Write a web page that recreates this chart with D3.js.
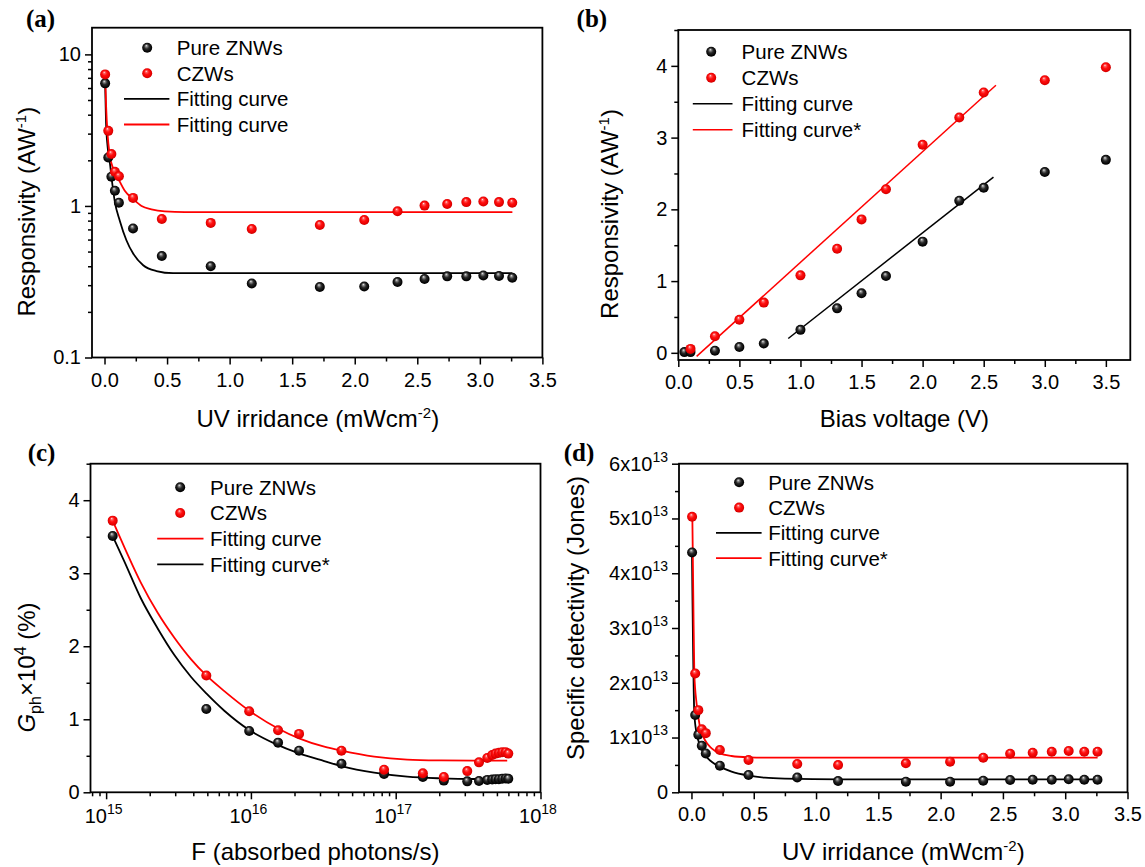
<!DOCTYPE html>
<html><head><meta charset="utf-8">
<script src="https://cdn.jsdelivr.net/npm/d3@7"></script>
<style>
body{margin:0;background:#fff;}
svg{display:block;}
text{font-family:"Liberation Sans",Arial,Helvetica,sans-serif;fill:#000;}
</style></head><body>
<svg id="c" width="1145" height="867"></svg>
<script>
// ---------------- DATA ----------------
// (a) Responsivity vs UV irradiance
const aIrr  = [0.005,0.03,0.055,0.083,0.115,0.228,0.458,0.849,1.177,1.721,2.076,2.342,2.558,2.739,2.892,3.028,3.153,3.259];
const aPure = [6.44,2.09,1.56,1.26,1.05,0.71,0.467,0.40,0.308,0.292,0.294,0.315,0.330,0.343,0.343,0.348,0.345,0.336];
const aCZW  = [7.38,3.13,2.20,1.68,1.57,1.13,0.82,0.773,0.705,0.749,0.808,0.922,1.005,1.03,1.06,1.07,1.06,1.05];
const aFitPureX = [0.005,0.012,0.025,0.042,0.06,0.083,0.122,0.175,0.229,0.309,0.415,0.548,0.80,3.26];
const aFitPureY = [6.43,3.6,2.45,1.95,1.45,1.06,0.80,0.594,0.485,0.406,0.372,0.36,0.36,0.36];
const aFitCZWX  = [0.005,0.013,0.024,0.042,0.069,0.109,0.162,0.229,0.296,0.375,0.482,0.642,3.26];
const aFitCZWY  = [7.38,4.51,3.01,2.16,1.77,1.52,1.26,1.11,1.00,0.95,0.92,0.91,0.91];
const aXTicks = [0,0.5,1,1.5,2,2.5,3,3.5];
const aXMinor = [0.25,0.75,1.25,1.75,2.25,2.75,3.25];
const aYTicks = [0.1,1,10];
const aYMinor = [0.2,0.3,0.4,0.5,0.6,0.7,0.8,0.9,2,3,4,5,6,7,8,9];

// (b) Responsivity vs bias voltage
const bVoltPure = [0.05,0.1,0.3,0.5,0.7,1.0,1.3,1.5,1.7,2.0,2.3,2.5,3.0,3.5];
const bPure     = [0.01,0.01,0.03,0.08,0.13,0.32,0.62,0.83,1.07,1.55,2.12,2.30,2.52,2.69];
const bVoltCZW  = [0.1,0.3,0.5,0.7,1.0,1.3,1.5,1.7,2.0,2.3,2.5,3.0,3.5];
const bCZW      = [0.055,0.23,0.46,0.70,1.08,1.45,1.86,2.28,2.90,3.28,3.63,3.80,3.98];
const bFitPureX = [0.9,2.58];
const bFitPureY = [0.2,2.45];
const bFitCZWX  = [0.15,2.6];
const bFitCZWY  = [-0.05,3.73];
const bXTicks = [0,0.5,1,1.5,2,2.5,3,3.5];
const bXMinor = [0.25,0.75,1.25,1.75,2.25,2.75,3.25];
const bYTicks = [0,1,2,3,4];
const bYMinor = [0.5,1.5,2.5,3.5,4.5];

// (c) Gain vs absorbed photons
const cF    = [1.11e15,4.92e15,9.73e15,1.54e16,2.15e16,4.22e16,8.31e16,1.54e17,2.15e17,3.12e17,3.76e17,4.29e17,4.64e17,4.89e17,5.16e17,5.44e17,5.74e17,5.99e17];
const cPure = [3.51,1.14,0.84,0.68,0.57,0.39,0.25,0.21,0.16,0.15,0.155,0.17,0.175,0.18,0.18,0.185,0.19,0.185];
const cCZW  = [3.72,1.60,1.11,0.85,0.80,0.57,0.31,0.26,0.21,0.29,0.41,0.47,0.51,0.53,0.54,0.55,0.55,0.53];
const cFitPureX = [1.11e15,1.34e15,1.74e15,2.27e15,2.96e15,3.85e15,4.92e15,6.55e15,9.75e15,1.45e16,2.15e16,3.21e16,4.22e16,7.10e16,1.20e17,2.04e17,3.47e17,5.89e17];
const cFitPureY = [3.507,3.156,2.654,2.244,1.879,1.582,1.354,1.117,0.852,0.670,0.533,0.428,0.360,0.269,0.214,0.191,0.182,0.182];
const cFitCZWX  = [1.11e15,1.34e15,1.74e15,2.27e15,2.96e15,3.85e15,4.92e15,6.55e15,9.75e15,1.55e16,2.15e16,3.21e16,4.22e16,7.10e16,1.20e17,2.04e17,3.47e17,5.89e17];
const cFitCZWY  = [3.717,3.352,2.869,2.458,2.116,1.824,1.600,1.386,1.117,0.871,0.738,0.624,0.570,0.488,0.447,0.436,0.433,0.433];
const cXTicks = [1e15,1e16,1e17,1e18];
const cXTickExp = ["15","16","17","18"];
const cXMinor = [8e14,9e14,2e15,3e15,4e15,5e15,6e15,7e15,8e15,9e15,2e16,3e16,4e16,5e16,6e16,7e16,8e16,9e16,2e17,3e17,4e17,5e17,6e17,7e17,8e17,9e17];
const cYTicks = [0,1,2,3,4];
const cYMinor = [0.5,1.5,2.5,3.5,4.5];

// (d) Specific detectivity vs UV irradiance
const dIrr  = [0.005,0.03,0.055,0.083,0.115,0.228,0.458,0.849,1.177,1.721,2.076,2.342,2.558,2.739,2.892,3.028,3.153,3.259];
const dPure = [4.38e13,1.41e13,1.05e13,0.85e13,0.71e13,0.486e13,0.316e13,0.27e13,0.206e13,0.194e13,0.194e13,0.212e13,0.225e13,0.23e13,0.23e13,0.237e13,0.23e13,0.228e13];
const dCZW  = [5.03e13,2.17e13,1.50e13,1.15e13,1.08e13,0.772e13,0.59e13,0.517e13,0.498e13,0.529e13,0.559e13,0.632e13,0.705e13,0.723e13,0.741e13,0.754e13,0.741e13,0.741e13];
const dFitPureX = [0.004,0.023,0.041,0.068,0.108,0.162,0.228,0.322,0.461,0.589,0.749,1.2,3.26];
const dFitPureY = [4.42e13,1.44e13,1.08e13,0.864e13,0.681e13,0.559e13,0.468e13,0.377e13,0.304e13,0.267e13,0.249e13,0.235e13,0.235e13];
const dFitCZWX  = [0.007,0.015,0.023,0.041,0.068,0.108,0.162,0.228,0.322,0.461,0.589,3.26];
const dFitCZWY  = [5.06e13,3.51e13,2.17e13,1.624e13,1.198e13,0.955e13,0.803e13,0.711e13,0.663e13,0.638e13,0.632e13,0.632e13];
const dXTicks = [0,0.5,1,1.5,2,2.5,3,3.5];
const dXMinor = [0.25,0.75,1.25,1.75,2.25,2.75,3.25];
const dYTicks = [0,1e13,2e13,3e13,4e13,5e13,6e13];
const dYMinor = [0.5e13,1.5e13,2.5e13,3.5e13,4.5e13,5.5e13];

// ---------------- DRAWING ----------------
const FONT = '"Liberation Sans", Arial, Helvetica, sans-serif';
const svg = d3.select("#c");
svg.append("rect").attr("width",1145).attr("height",867).attr("fill","#fff");
const defs = svg.append("defs");
function grad(id, stops){
  const g = defs.append("radialGradient").attr("id",id)
    .attr("cx","50%").attr("cy","50%").attr("r","55%").attr("fx","40%").attr("fy","28%");
  stops.forEach(s=>g.append("stop").attr("offset",s[0]).attr("stop-color",s[1]));
}
grad("gBlack",[["0%","#f0f0f0"],["18%","#8a8a8a"],["45%","#2a2a2a"],["80%","#050505"],["100%","#000"]]);
grad("gRed",[["0%","#fff0f0"],["18%","#ff6060"],["45%","#ff1010"],["80%","#e60000"],["100%","#b80000"]]);

const zip = (a,b)=>a.map((v,i)=>[v,b[i]]);
const R = 5;

function rich(g, x, y, rot, parts, size, anchor){
  const t = g.append("text")
    .attr("transform",`translate(${x},${y})`+(rot?` rotate(${rot})`:""))
    .attr("text-anchor",anchor||"middle").attr("font-size",size);
  parts.forEach(p=>{
    const s = t.append("tspan").text(p.t);
    if(p.dy) s.attr("dy",p.dy);
    if(p.size) s.attr("font-size",p.size);
    if(p.it) s.attr("font-style","italic");
  });
  return t;
}

function styleAxis(sel){
  sel.select(".domain").remove();
  sel.attr("font-size",20).attr("font-family",FONT);
  sel.selectAll(".tick line").attr("stroke","#000").attr("stroke-width",1.5);
  sel.selectAll(".tick text").attr("fill","#000");
}

function panel(p){
  const g = svg.append("g");
  const x = p.x, y = p.y;
  const [l,r] = x.range(); const [b,t] = y.range();
  g.append("g").attr("transform",`translate(0,${b})`)
    .call(d3.axisBottom(x).tickValues(p.xMinor).tickSize(4).tickFormat(""))
    .call(styleAxis);
  g.append("g").attr("transform",`translate(${l},0)`)
    .call(d3.axisLeft(y).tickValues(p.yMinor).tickSize(4).tickFormat(""))
    .call(styleAxis);
  const xa = g.append("g").attr("transform",`translate(0,${b})`)
    .call(d3.axisBottom(x).tickValues(p.xMajor).tickSize(7).tickPadding(p.xPad).tickFormat(p.xFmt))
    .call(styleAxis);
  const ya = g.append("g").attr("transform",`translate(${l},0)`)
    .call(d3.axisLeft(y).tickValues(p.yMajor).tickSize(7).tickPadding(4).tickFormat(p.yFmt))
    .call(styleAxis);
  if(p.xSup) xa.selectAll(".tick text").each(function(d,i){ p.xSup(d3.select(this),d,i); });
  if(p.ySup) ya.selectAll(".tick text").each(function(d,i){ p.ySup(d3.select(this),d,i); });
  g.append("rect").attr("x",l).attr("y",t).attr("width",r-l).attr("height",b-t)
    .attr("fill","none").attr("stroke","#000").attr("stroke-width",1.8);
  const line = d3.line().x(d=>x(d[0])).y(d=>y(d[1])).curve(d3.curveMonotoneX);
  p.fits.forEach(f=>{
    g.append("path").datum(zip(f.x,f.y)).attr("d",line)
      .attr("fill","none").attr("stroke",f.color).attr("stroke-width",p.lw||1.8);
  });
  p.series.forEach(s=>{
    g.append("g").selectAll("circle").data(zip(s.x,s.y)).join("circle")
      .attr("cx",d=>x(d[0])).attr("cy",d=>y(d[1])).attr("r",R)
      .attr("fill",`url(#${s.grad})`);
  });
  const lg = g.append("g").attr("font-size",20.5);
  p.legend.items.forEach((it,i)=>{
    const yy = p.legend.y0 + i*p.legend.dy;
    if(it.type==="pt"){
      lg.append("circle").attr("cx",p.legend.mx).attr("cy",yy).attr("r",R).attr("fill",`url(#${it.grad})`);
    } else {
      lg.append("line").attr("x1",p.legend.lx1).attr("x2",p.legend.lx2).attr("y1",yy).attr("y2",yy)
        .attr("stroke",it.color).attr("stroke-width",p.lw||1.8);
    }
    lg.append("text").attr("x",p.legend.tx).attr("y",yy+7.3).text(it.label);
  });
  rich(g, p.xt[0], p.xt[1], 0, p.xTitle, 24);
  rich(g, p.yt[0], p.yt[1], -90, p.yTitle, 24);
  g.append("text").attr("x",p.lab[0]).attr("y",p.lab[1]).attr("font-size",25)
    .attr("font-weight","bold").style("font-family",'"Liberation Serif","Times New Roman",serif')
    .text(p.lab[2]);
}

const fmt1 = d3.format(".1f");
const supTick = (base, exp) => (sel)=>{
  sel.text(null);
  sel.append("tspan").text(base);
  sel.append("tspan").attr("font-size",14).attr("dy",-9).text(exp);
};
const uvTitle = [{t:"UV irridance (mWcm"},{t:"-2",size:15,dy:-9},{t:")",dy:9}];
const respTitle = [{t:"Responsivity (AW"},{t:"-1",size:15,dy:-9},{t:")",dy:9}];

// (a)
panel({
  x: d3.scaleLinear([-0.1,3.5],[92,542.4]),
  y: d3.scaleLog([0.1,15],[357.5,27.7]),
  xMajor:aXTicks, xMinor:aXMinor, yMajor:aYTicks, yMinor:aYMinor,
  xFmt:fmt1, yFmt:d=>String(d), xPad:8,
  fits:[{x:aFitPureX,y:aFitPureY,color:"#000"},{x:aFitCZWX,y:aFitCZWY,color:"#ff0000"}],
  series:[{x:aIrr,y:aPure,grad:"gBlack"},{x:aIrr,y:aCZW,grad:"gRed"}],
  legend:{mx:147.2,lx1:124,lx2:169.4,tx:176.8,y0:47.7,dy:25.6,items:[
    {type:"pt",grad:"gBlack",label:"Pure ZNWs"},{type:"pt",grad:"gRed",label:"CZWs"},
    {type:"ln",color:"#000",label:"Fitting curve"},{type:"ln",color:"#ff0000",label:"Fitting curve"}]},
  xTitle:uvTitle, xt:[317.8,427], yTitle:respTitle, yt:[34.5,211.7],
  lab:[26,27,"(a)"]
});

// (b)
panel({
  x: d3.scaleLinear([0,3.7],[678.3,1130.3]),
  y: d3.scaleLinear([-0.1,4.5],[360,30]),
  xMajor:bXTicks, xMinor:bXMinor, yMajor:bYTicks, yMinor:bYMinor,
  xFmt:fmt1, yFmt:d3.format("d"), xPad:8, lw:1.5,
  fits:[{x:bFitPureX,y:bFitPureY,color:"#000"},{x:bFitCZWX,y:bFitCZWY,color:"#ff0000"}],
  series:[{x:bVoltPure,y:bPure,grad:"gBlack"},{x:bVoltCZW,y:bCZW,grad:"gRed"}],
  legend:{mx:711.2,lx1:692.8,lx2:732.5,tx:741.6,y0:51.7,dy:26,items:[
    {type:"pt",grad:"gBlack",label:"Pure ZNWs"},{type:"pt",grad:"gRed",label:"CZWs"},
    {type:"ln",color:"#000",label:"Fitting curve"},{type:"ln",color:"#ff0000",label:"Fitting curve*"}]},
  xTitle:[{t:"Bias voltage (V)"}], xt:[904.4,427], yTitle:respTitle, yt:[618,214],
  lab:[576.6,27.3,"(b)"]
});

// (c)
panel({
  x: d3.scaleLog([7.8e14,1e18],[90.5,540.5]),
  y: d3.scaleLinear([0,4.5],[792.3,463.7]),
  xMajor:cXTicks, xMinor:cXMinor, yMajor:cYTicks, yMinor:cYMinor,
  xFmt:d=>"10", yFmt:d3.format("d"), xPad:9.5,
  xSup:(sel,d,i)=>{ supTick("10",cXTickExp[i])(sel); sel.attr("dx",-3); },
  fits:[{x:cFitPureX,y:cFitPureY,color:"#000"},{x:cFitCZWX,y:cFitCZWY,color:"#ff0000"}],
  series:[{x:cF,y:cPure,grad:"gBlack"},{x:cF,y:cCZW,grad:"gRed"}],
  legend:{mx:180.2,lx1:157.2,lx2:203.5,tx:210.1,y0:487.3,dy:25.7,items:[
    {type:"pt",grad:"gBlack",label:"Pure ZNWs"},{type:"pt",grad:"gRed",label:"CZWs"},
    {type:"ln",color:"#ff0000",label:"Fitting curve"},{type:"ln",color:"#000",label:"Fitting curve*"}]},
  xTitle:[{t:"F (absorbed photons/s)"}], xt:[315.4,860],
  yTitle:[{t:"G",it:true},{t:"ph",size:16,dy:6},{t:"×10",dy:-6},{t:"4",size:16,dy:-9},{t:" (%)",dy:9}],
  yt:[35,667.5],
  lab:[27.7,461,"(c)"]
});

// (d)
panel({
  x: d3.scaleLinear([-0.1,3.5],[679,1127.5]),
  y: d3.scaleLinear([0,6e13],[792.3,463.7]),
  xMajor:dXTicks, xMinor:dXMinor, yMajor:dYTicks, yMinor:dYMinor,
  xFmt:fmt1, yFmt:d=>d===0?"0":String(Math.round(d/1e13))+"x10", xPad:7.5,
  ySup:(sel,d)=>{ if(d!==0) supTick(String(Math.round(d/1e13))+"x10","13")(sel); },
  fits:[{x:dFitPureX,y:dFitPureY,color:"#000"},{x:dFitCZWX,y:dFitCZWY,color:"#ff0000"}],
  series:[{x:dIrr,y:dPure,grad:"gBlack"},{x:dIrr,y:dCZW,grad:"gRed"}],
  legend:{mx:739.1,lx1:716,lx2:761.6,tx:768.2,y0:482.3,dy:25.3,items:[
    {type:"pt",grad:"gBlack",label:"Pure ZNWs"},{type:"pt",grad:"gRed",label:"CZWs"},
    {type:"ln",color:"#000",label:"Fitting curve"},{type:"ln",color:"#ff0000",label:"Fitting curve*"}]},
  xTitle:uvTitle, xt:[903.3,860], yTitle:[{t:"Specific detectivity (Jones)"}], yt:[583.5,618],
  lab:[563.7,461,"(d)"]
});
</script>
</body></html>
